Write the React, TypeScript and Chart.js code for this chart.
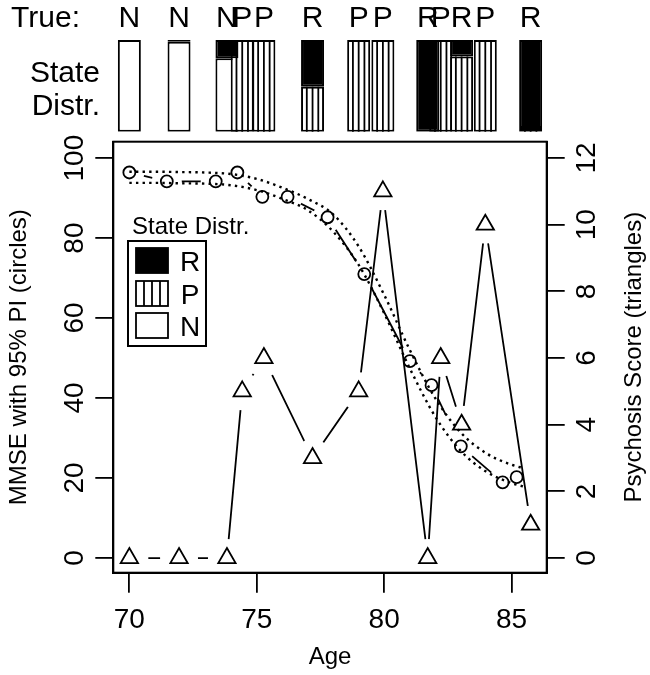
import React, { useEffect, useRef } from "react";
import { Chart, registerables } from "chart.js";

Chart.register(...registerables);

const FONT = '"Liberation Sans", Arial, sans-serif';

// ---- observations (psychosis score / state) ----
const obsAge = [70.0, 71.95, 73.83, 74.43, 75.28, 77.19, 79.0, 79.95, 81.71, 82.22, 83.04, 83.97, 85.75];
const psychosis = [0, 0, 0, 5, 6, 3, 5, 11, 0, 6, 4, 10, 1];
const trueState = ["N", "N", "N", "P", "P", "R", "P", "P", "R", "P", "R", "P", "R"];
const probR = [0, 0.02, 0.2, 0, 0, 0.51, 0, 0, 1, 0, 0.18, 0, 0.96];
const probP = [0, 0, 0, 1, 1, 0.49, 1, 1, 0, 1, 0.82, 1, 0.04];
const probN = [1, 0.98, 0.8, 0, 0, 0, 0, 0, 0, 0, 0, 0, 0];

// ---- MMSE observations (circles) ----
const mmseAge = [70.0, 71.47, 73.39, 74.24, 75.22, 76.21, 77.78, 79.22, 81.01, 81.86, 83.01, 84.65, 85.2];
const mmse = [96.4, 94.2, 94.2, 96.4, 90.3, 90.3, 85.2, 71.0, 49.2, 43.2, 27.9, 18.9, 20.2];

// ---- 95% prediction interval (dotted curves) ----
const piAge = [70, 71, 72, 73, 74, 75, 76, 77, 78, 79, 80, 81, 82, 83, 84, 85, 85.5];
const piUpper = [96.6, 96.6, 96.5, 96.4, 96.0, 94.8, 92.6, 89.8, 85.9, 77.9, 65.8, 52.1, 40.0, 31.4, 26.2, 23.3, 22.4];
const piLower = [93.8, 93.8, 93.7, 93.6, 93.2, 92.0, 89.8, 87.0, 81.6, 73.3, 61.2, 47.5, 35.4, 26.8, 21.6, 18.7, 17.8];

// ---- axes ----
const xTicks = [70, 75, 80, 85];
const leftTicks = [0, 20, 40, 60, 80, 100];
const rightTicks = [0, 2, 4, 6, 8, 10, 12];
const legendStates = ["R", "P", "N"];

const X_MIN = 69.37;
const X_MAX = 86.38;

function hatch(ctx: CanvasRenderingContext2D, x0: number, top: number, w: number, bot: number) {
  for (let k = 1; k < 4; k++) {
    const lx = x0 + (w * k) / 4;
    ctx.beginPath();
    ctx.moveTo(lx, top);
    ctx.lineTo(lx, bot);
    ctx.stroke();
  }
}

const stripPlugin = {
  id: "stripDecor",
  afterDatasetDraw(chart: any, args: any) {
    if (chart.data.datasets[args.index].label !== "P") return;
    const ctx = chart.ctx as CanvasRenderingContext2D;
    ctx.save();
    ctx.strokeStyle = "#000";
    ctx.lineWidth = 1.8;
    args.meta.data.forEach((el: any) => {
      const { x, y, base, width } = el.getProps(["x", "y", "base", "width"], true);
      const top = Math.min(y, base);
      const bot = Math.max(y, base);
      hatch(ctx, x - width / 2, top, width, bot);
    });
    ctx.restore();
  },
  afterDraw(chart: any) {
    const ctx = chart.ctx as CanvasRenderingContext2D;
    const xs = chart.scales.x;
    ctx.save();
    ctx.fillStyle = "#000";
    ctx.font = `30px ${FONT}`;
    ctx.textBaseline = "alphabetic";
    ctx.textAlign = "right";
    ctx.fillText("True:", 80, 27);
    ctx.fillText("State", 100, 82);
    ctx.fillText("Distr.", 100, 115);
    ctx.textAlign = "center";
    trueState.forEach((s, i) => {
      ctx.fillText(s, xs.getPixelForValue(obsAge[i]), 27);
    });
    ctx.restore();
  },
};

const mainPlugin = {
  id: "mainDecor",
  afterDraw(chart: any) {
    const ctx = chart.ctx as CanvasRenderingContext2D;
    const a = chart.chartArea;
    const xs = chart.scales.x;
    const yl = chart.scales.y;
    const yr = chart.scales.y2;
    ctx.save();
    // frame
    ctx.strokeStyle = "#000";
    ctx.lineWidth = 2;
    ctx.strokeRect(a.left, a.top, a.right - a.left, a.bottom - a.top);

    ctx.fillStyle = "#000";
    // x tick labels
    ctx.font = `28px ${FONT}`;
    ctx.textAlign = "center";
    ctx.textBaseline = "alphabetic";
    xs.ticks.forEach((t: any) => {
      ctx.fillText(String(t.value), xs.getPixelForValue(t.value), 628);
    });
    // rotated y tick labels
    const rot = (txt: string, x: number, y: number) => {
      ctx.save();
      ctx.translate(x, y);
      ctx.rotate(-Math.PI / 2);
      ctx.fillText(txt, 0, 0);
      ctx.restore();
    };
    yl.ticks.forEach((t: any) => rot(String(t.value), 83, yl.getPixelForValue(t.value)));
    yr.ticks.forEach((t: any) => rot(String(t.value), 595, yr.getPixelForValue(t.value)));

    // axis titles
    ctx.font = `24px ${FONT}`;
    ctx.fillText("Age", (a.left + a.right) / 2, 664);
    const midY = (a.top + a.bottom) / 2;
    rot("MMSE with 95% PI (circles)", 26, midY);
    rot("Psychosis Score (triangles)", 641, midY);

    // legend
    ctx.font = `24px ${FONT}`;
    ctx.textAlign = "left";
    ctx.fillText("State Distr.", 132, 234);
    ctx.lineWidth = 2;
    ctx.strokeRect(128, 241, 78, 105);
    const sw = [248, 281, 313];
    ctx.font = `28px ${FONT}`;
    ctx.textAlign = "center";
    legendStates.forEach((s, i) => {
      const y0 = sw[i];
      ctx.fillStyle = s === "R" ? "#000" : "#fff";
      ctx.fillRect(136, y0, 32, 25);
      ctx.lineWidth = 1.8;
      ctx.strokeRect(136, y0, 32, 25);
      if (s === "P") {
        ctx.lineWidth = 1.8;
        hatch(ctx, 136, y0, 32, y0 + 25);
      }
      ctx.fillStyle = "#000";
      ctx.fillText(s, 190, y0 + 23);
    });
    ctx.restore();
  },
};

export default function App() {
  const stripRef = useRef<HTMLCanvasElement>(null);
  const mainRef = useRef<HTMLCanvasElement>(null);

  useEffect(() => {
    const segN: any[] = [];
    const segP: any[] = [];
    const segR: any[] = [];
    obsAge.forEach((age, i) => {
      const n = probN[i];
      const p = probP[i];
      const r = probR[i];
      if (n > 0) segN.push({ x: age, y: [0, n] });
      if (p > 0) segP.push({ x: age, y: [n, n + p] });
      if (r > 0) segR.push({ x: age, y: [n + p, n + p + r] });
    });

    const strip = new Chart(stripRef.current!, {
      type: "bar",
      data: {
        datasets: [
          { label: "R", data: segR, backgroundColor: "#000", order: 1 } as any,
          { label: "P", data: segP, backgroundColor: "#fff", order: 2 } as any,
          { label: "N", data: segN, backgroundColor: "#fff", order: 3 } as any,
        ],
      },
      options: {
        responsive: false,
        animation: false,
        events: [],
        layout: { padding: { left: 113.3, right: 103.3, top: 40, bottom: 8.3 } },
        datasets: {
          bar: {
            grouped: false,
            barThickness: 23,
            borderColor: "#000",
            borderWidth: 2,
            borderSkipped: false,
            inflateAmount: 0,
          } as any,
        },
        scales: {
          x: { type: "linear", min: X_MIN, max: X_MAX, offset: false, display: false },
          y: { min: 0, max: 1, display: false },
        },
        plugins: { legend: { display: false }, tooltip: { enabled: false } },
      },
      plugins: [stripPlugin],
    });

    const mmsePts = mmseAge.map((x, i) => ({ x, y: mmse[i] }));
    const psyPts = obsAge.map((x, i) => ({ x, y: psychosis[i] }));
    const upPts = piAge.map((x, i) => ({ x, y: piUpper[i] }));
    const loPts = piAge.map((x, i) => ({ x, y: piLower[i] }));

    const axisGrid = (len: number) => ({
      drawOnChartArea: false,
      drawTicks: true,
      tickLength: len,
      color: "#000",
      lineWidth: 1.8,
    });

    const main = new Chart(mainRef.current!, {
      type: "line",
      data: {
        datasets: [
          { data: mmsePts, yAxisID: "y", showLine: true, borderColor: "#000", borderWidth: 1.8, pointRadius: 0, order: 8 },
          { data: mmsePts, yAxisID: "y", showLine: false, pointRadius: 15, pointBackgroundColor: "#fff", pointBorderWidth: 0, order: 7, clip: 0 },
          { data: psyPts, yAxisID: "y2", showLine: true, borderColor: "#000", borderWidth: 1.8, pointRadius: 0, order: 6 },
          { data: psyPts, yAxisID: "y2", showLine: false, pointRadius: 19, pointBackgroundColor: "#fff", pointBorderWidth: 0, order: 5, clip: 0 },
          { data: upPts, yAxisID: "y", showLine: true, borderColor: "#000", borderWidth: 2.4, borderDash: [2.4, 4.2], cubicInterpolationMode: "monotone", pointRadius: 0, order: 4 },
          { data: loPts, yAxisID: "y", showLine: true, borderColor: "#000", borderWidth: 2.4, borderDash: [2.4, 4.2], cubicInterpolationMode: "monotone", pointRadius: 0, order: 4 },
          { data: mmsePts, yAxisID: "y", showLine: false, pointStyle: "circle", pointRadius: 6, pointBorderWidth: 1.8, pointBorderColor: "#000", pointBackgroundColor: "rgba(0,0,0,0)", order: 2 },
          { data: psyPts, yAxisID: "y2", showLine: false, pointStyle: "triangle", pointRadius: 10, pointBorderWidth: 1.8, pointBorderColor: "#000", pointBackgroundColor: "rgba(0,0,0,0)", order: 1 },
        ] as any,
      },
      options: {
        responsive: false,
        animation: false,
        events: [],
        layout: { padding: { top: 141.7, left: 0, right: 0, bottom: 0 } },
        scales: {
          x: {
            type: "linear",
            min: X_MIN,
            max: X_MAX,
            offset: false,
            afterBuildTicks: (s: any) => { s.ticks = xTicks.map((v) => ({ value: v })); },
            afterFit: (s: any) => { s.height = 102.3; },
            ticks: { display: false },
            grid: axisGrid(20),
            border: { display: true, color: "#000", width: 2 },
          },
          y: {
            position: "left",
            min: -3.7,
            max: 104.1,
            afterBuildTicks: (s: any) => { s.ticks = leftTicks.map((v) => ({ value: v })); },
            afterFit: (s: any) => { s.width = 113.3; },
            ticks: { display: false },
            grid: axisGrid(18),
            border: { display: true, color: "#000", width: 2 },
          },
          y2: {
            position: "right",
            min: -0.44,
            max: 12.49,
            afterBuildTicks: (s: any) => { s.ticks = rightTicks.map((v) => ({ value: v })); },
            afterFit: (s: any) => { s.width = 103.3; },
            ticks: { display: false },
            grid: axisGrid(18),
            border: { display: true, color: "#000", width: 2 },
          },
        } as any,
        plugins: { legend: { display: false }, tooltip: { enabled: false } },
      },
      plugins: [mainPlugin],
    });

    return () => {
      strip.destroy();
      main.destroy();
    };
  }, []);

  return (
    <div style={{ position: "absolute", left: 0, top: 0, width: 650, height: 675, background: "#fff" }}>
      <canvas ref={mainRef} width={650} height={675} style={{ position: "absolute", left: 0, top: 0 }} />
      <canvas ref={stripRef} width={650} height={140} style={{ position: "absolute", left: 0, top: 0 }} />
    </div>
  );
}
